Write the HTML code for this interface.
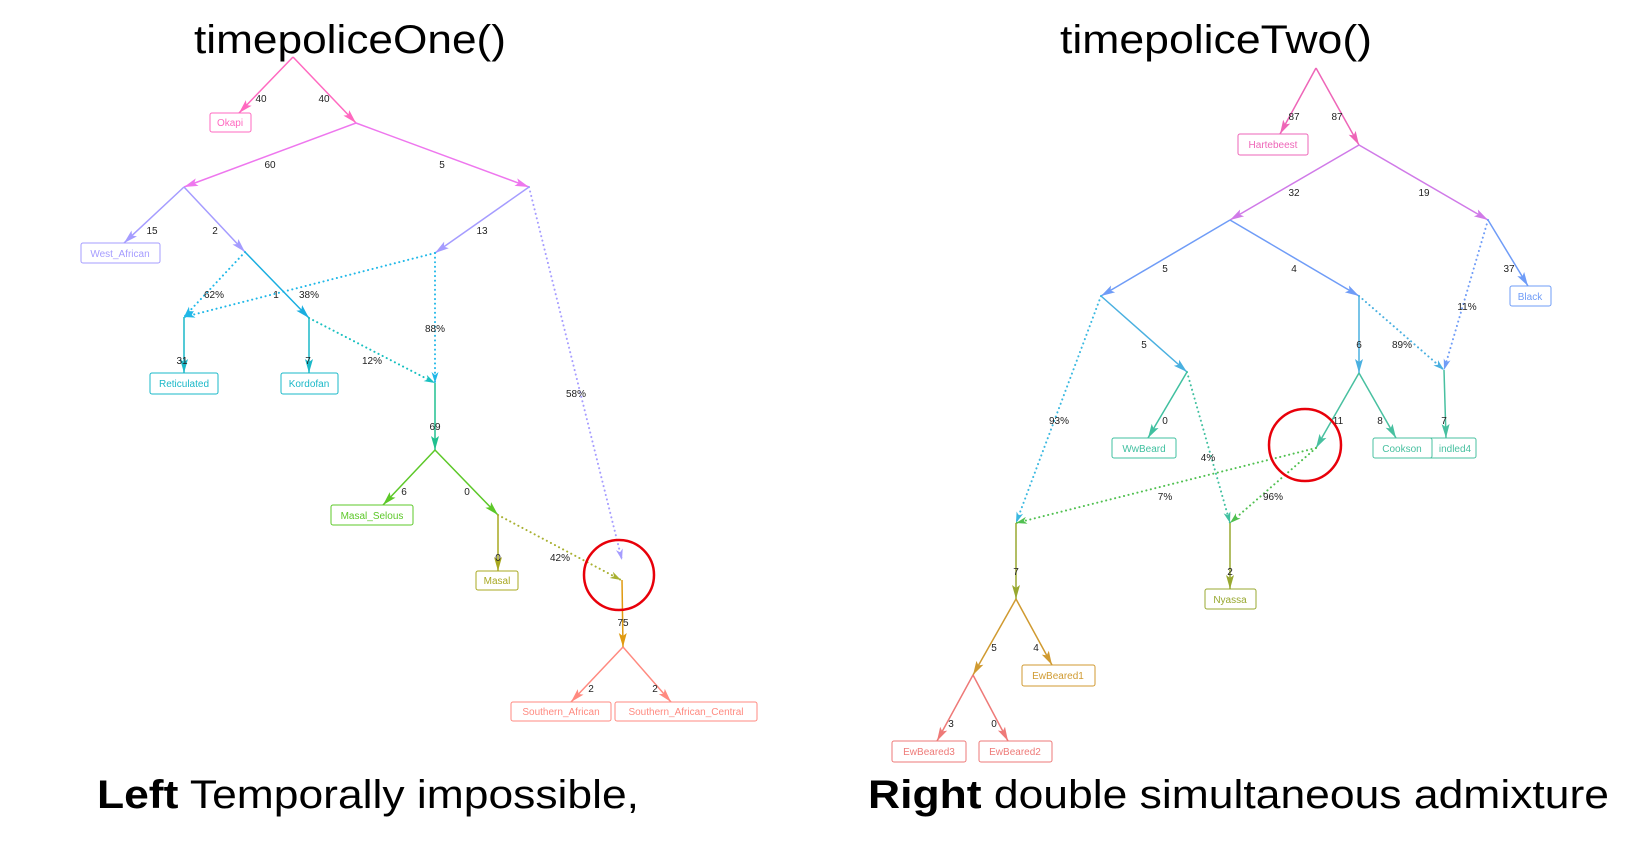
<!DOCTYPE html>
<html><head><meta charset="utf-8"><style>
html,body{margin:0;padding:0;background:#fff;}
svg{display:block;}
.l{font-family:"Liberation Sans",sans-serif;font-size:10px;fill:#222;text-anchor:middle;}
.n{font-family:"Liberation Sans",sans-serif;font-size:10px;text-anchor:middle;}
.t{font-family:"Liberation Sans",sans-serif;font-size:40px;fill:#000;}
</style></head><body>
<svg id="s" width="1648" height="850" viewBox="0 0 1648 850" xmlns="http://www.w3.org/2000/svg">
<g id="edges"></g>
<text class="t" x="194" y="53" textLength="312" lengthAdjust="spacingAndGlyphs">timepoliceOne()</text>
<text class="t" x="1060" y="53" textLength="312" lengthAdjust="spacingAndGlyphs">timepoliceTwo()</text>
<text class="t" x="97" y="808" textLength="542" lengthAdjust="spacingAndGlyphs"><tspan font-weight="bold">Left</tspan> Temporally impossible,</text>
<text class="t" x="868" y="808" textLength="741" lengthAdjust="spacingAndGlyphs"><tspan font-weight="bold">Right</tspan> double simultaneous admixture</text>

<!-- left boxes -->
<g fill="#fff" stroke-width="1">
<rect x="210" y="113" width="41" height="19" rx="2" stroke="#ff69c0"/>
<rect x="81" y="243" width="79" height="20" rx="2" stroke="#a59cff"/>
<rect x="150" y="373" width="68" height="21" rx="2" stroke="#1ab8c8"/>
<rect x="281" y="373" width="57" height="21" rx="2" stroke="#1ab8c8"/>
<rect x="331" y="505" width="82" height="20" rx="2" stroke="#5cc828"/>
<rect x="476" y="571" width="42" height="19" rx="2" stroke="#a8a820"/>
<rect x="511" y="702" width="100" height="19" rx="2" stroke="#ff8a80"/>
<rect x="615" y="702" width="142" height="19" rx="2" stroke="#ff8a80"/>
</g>
<text class="n" x="230" y="126" fill="#ff69c0">Okapi</text>
<text class="n" x="120" y="257" fill="#a59cff">West_African</text>
<text class="n" x="184" y="387" fill="#1ab8c8">Reticulated</text>
<text class="n" x="309" y="387" fill="#1ab8c8">Kordofan</text>
<text class="n" x="372" y="519" fill="#5cc828">Masal_Selous</text>
<text class="n" x="497" y="584" fill="#a8a820">Masal</text>
<text class="n" x="561" y="715" fill="#ff8a80">Southern_African</text>
<text class="n" x="686" y="715" fill="#ff8a80">Southern_African_Central</text>

<!-- right boxes -->
<g fill="#fff" stroke-width="1">
<rect x="1238" y="134" width="70" height="21" rx="2" stroke="#ee66b8"/>
<rect x="1510" y="286" width="41" height="20" rx="2" stroke="#6f9cf7"/>
<rect x="1112" y="438" width="64" height="20" rx="2" stroke="#40c0a0"/>
<rect x="1417" y="438" width="59" height="20" rx="2" stroke="#48c0a0"/>
<rect x="1373" y="438" width="59" height="20" rx="2" stroke="#48c0a0"/>
<rect x="1205" y="589" width="51" height="20" rx="2" stroke="#98a830"/>
<rect x="1022" y="665" width="73" height="21" rx="2" stroke="#d09a30"/>
<rect x="892" y="741" width="74" height="21" rx="2" stroke="#ee7a78"/>
<rect x="979" y="741" width="73" height="21" rx="2" stroke="#ee7a78"/>
</g>
<text class="n" x="1273" y="148" fill="#ee66b8">Hartebeest</text>
<text class="n" x="1530" y="300" fill="#6f9cf7">Black</text>
<text class="n" x="1144" y="452" fill="#40c0a0">WwBeard</text>
<text class="n" x="1455" y="452" fill="#48c0a0">indled4</text>
<text class="n" x="1402" y="452" fill="#48c0a0">Cookson</text>
<text class="n" x="1230" y="603" fill="#98a830">Nyassa</text>
<text class="n" x="1058" y="679" fill="#d09a30">EwBeared1</text>
<text class="n" x="929" y="755" fill="#ee7a78">EwBeared3</text>
<text class="n" x="1015" y="755" fill="#ee7a78">EwBeared2</text>

<!-- left labels -->
<text class="l" x="261" y="102">40</text><text class="l" x="324" y="102">40</text>
<text class="l" x="270" y="168">60</text><text class="l" x="442" y="168">5</text>
<text class="l" x="152" y="234">15</text><text class="l" x="215" y="234">2</text><text class="l" x="482" y="234">13</text>
<text class="l" x="214" y="298">62%</text><text class="l" x="276" y="298">1</text><text class="l" x="309" y="298">38%</text>
<text class="l" x="435" y="332">88%</text>
<text class="l" x="182" y="364">31</text><text class="l" x="308" y="364">7</text><text class="l" x="372" y="364">12%</text>
<text class="l" x="576" y="397">58%</text>
<text class="l" x="435" y="430">69</text>
<text class="l" x="404" y="495">6</text><text class="l" x="467" y="495">0</text>
<text class="l" x="498" y="561">0</text><text class="l" x="560" y="561">42%</text>
<text class="l" x="623" y="626">75</text>
<text class="l" x="591" y="692">2</text><text class="l" x="655" y="692">2</text>

<!-- right labels -->
<text class="l" x="1294" y="120">87</text><text class="l" x="1337" y="120">87</text>
<text class="l" x="1294" y="196">32</text><text class="l" x="1424" y="196">19</text>
<text class="l" x="1165" y="272">5</text><text class="l" x="1294" y="272">4</text><text class="l" x="1509" y="272">37</text>
<text class="l" x="1467" y="310">11%</text>
<text class="l" x="1144" y="348">5</text><text class="l" x="1359" y="348">6</text><text class="l" x="1402" y="348">89%</text>
<text class="l" x="1059" y="424">93%</text><text class="l" x="1165" y="424">0</text><text class="l" x="1338" y="424">11</text><text class="l" x="1380" y="424">8</text><text class="l" x="1444" y="424">7</text>
<text class="l" x="1208" y="461">4%</text>
<text class="l" x="1165" y="500">7%</text><text class="l" x="1273" y="500">96%</text>
<text class="l" x="1016" y="575">7</text><text class="l" x="1230" y="575">2</text>
<text class="l" x="994" y="651">5</text><text class="l" x="1036" y="651">4</text>
<text class="l" x="951" y="727">3</text><text class="l" x="994" y="727">0</text>

<circle cx="619" cy="575" r="35" fill="none" stroke="#e8000a" stroke-width="2.5"/>
<circle cx="1305" cy="445" r="36" fill="none" stroke="#e8000a" stroke-width="2.5"/>
<script>
(function(){
var g=document.getElementById('edges'),NS='http://www.w3.org/2000/svg';
function e(a,b,c,d,col,dot){
 var l=document.createElementNS(NS,'line');
 l.setAttribute('x1',a);l.setAttribute('y1',b);l.setAttribute('x2',c);l.setAttribute('y2',d);
 l.setAttribute('stroke',col);l.setAttribute('stroke-width',dot?1.7:1.5);
 if(dot){l.setAttribute('stroke-dasharray','0.1 4.5');l.setAttribute('stroke-linecap','round');l.setAttribute('stroke-width',2);}
 g.appendChild(l);
 var dx=c-a,dy=d-b,L=Math.sqrt(dx*dx+dy*dy),ux=dx/L,uy=dy/L,h=dot?11:14,w=dot?3.5:4;
 var bx=c-ux*h,by=d-uy*h;
 var p=document.createElementNS(NS,'polygon');
 p.setAttribute('points',c+','+d+' '+(bx-uy*w)+','+(by+ux*w)+' '+(bx+ux*3)+','+(by+uy*3)+' '+(bx+uy*w)+','+(by-ux*w));
 p.setAttribute('fill',col);g.appendChild(p);
}
// left
e(293,57,239,113,'#ff69c0');e(293,57,356,123,'#ff69c0');
e(356,123,184,187,'#ee77ee');e(356,123,529,187,'#ee77ee');
e(184,187,124,243,'#a59cff');e(184,187,245,252,'#a59cff');
e(529,187,435,253,'#a59cff');e(529,187,622,560,'#a59cff',1);
e(245,252,184,317,'#20b8e8',1);e(435,253,184,317,'#20b8e8',1);e(245,252,309,318,'#1aaee0');
e(184,317,184,373,'#1ab8c8');e(309,318,309,373,'#1ab8c8');
e(435,253,435,383,'#20b8e8',1);e(309,318,435,383,'#18c0c0',1);
e(435,383,435,450,'#20c090');
e(435,450,383,505,'#5cc828');e(435,450,498,515,'#5cc828');
e(498,515,498,571,'#a8a820');e(498,515,621,580,'#a8b030',1);
e(622,580,623,647,'#e09a10');
e(623,647,571,702,'#ff8a80');e(623,647,671,702,'#ff8a80');
// right
e(1316,68,1280,134,'#ee66b8');e(1316,68,1359,145,'#ee66b8');
e(1359,145,1230,220,'#d07ae8');e(1359,145,1488,220,'#d07ae8');
e(1230,220,1101,296,'#6f9cf7');e(1230,220,1359,296,'#6f9cf7');
e(1488,220,1528,286,'#6f9cf7');e(1488,220,1444,370,'#6f9cf7',1);
e(1101,296,1187,372,'#4ab0e0');e(1101,296,1016,523,'#3ab8e0',1);
e(1359,296,1359,373,'#4ab0e0');e(1359,296,1444,370,'#4ab0e0',1);
e(1187,372,1148,438,'#40c0a0');e(1187,372,1230,523,'#40c0a0',1);
e(1359,373,1316,448,'#48c0a0');e(1359,373,1396,438,'#48c0a0');
e(1444,370,1446,438,'#48c0a0');
e(1316,448,1016,523,'#50c050',1);e(1316,448,1230,523,'#50c050',1);
e(1016,523,1016,599,'#98a830');e(1230,523,1230,589,'#98a830');
e(1016,599,1052,665,'#d09a30');e(1016,599,973,675,'#d09a30');
e(973,675,937,741,'#ee7a78');e(973,675,1008,741,'#ee7a78');
})();
</script>
</svg>
</body></html>
